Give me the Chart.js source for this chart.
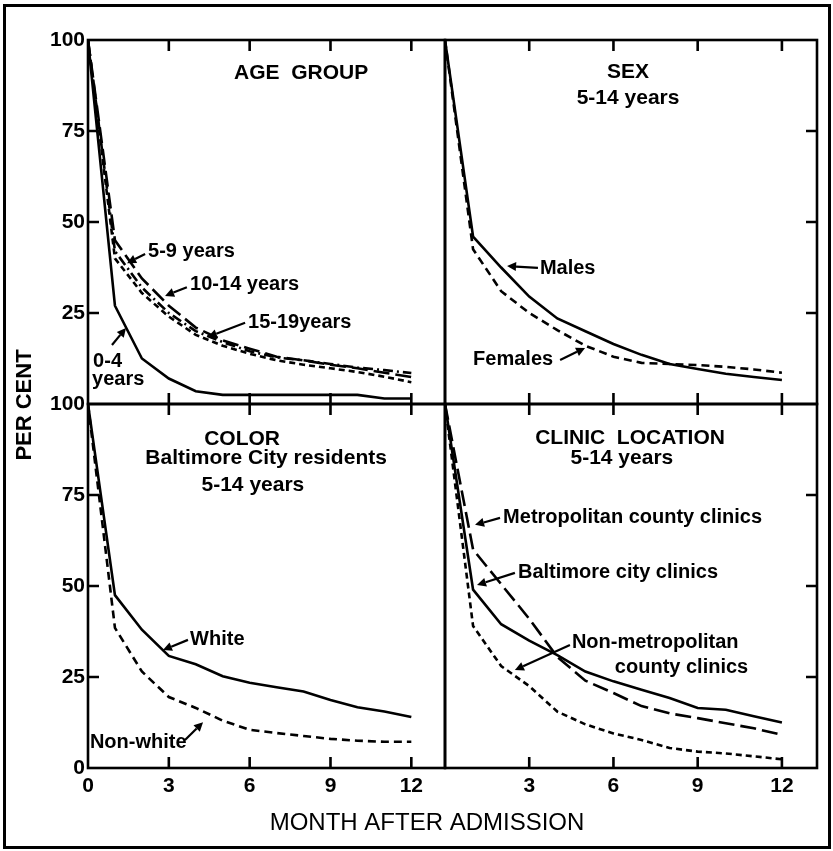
<!DOCTYPE html>
<html><head><meta charset="utf-8">
<script src="https://cdn.jsdelivr.net/npm/chart.js@4.4.1/dist/chart.umd.min.js"></script>
<style>
html,body{margin:0;padding:0;background:#fff;}
#wrap{position:relative;width:833px;height:851px;overflow:hidden;background:#fff;}
#wrap canvas{position:absolute;left:0;top:0;}
#frame{position:absolute;left:3px;top:4px;width:828px;height:845px;border:3px solid #000;box-sizing:border-box;}
</style></head><body>
<div id="wrap">
<div id="frame"></div>
<canvas id="cTL" width="833" height="851"></canvas>
<canvas id="cTR" width="833" height="851"></canvas>
<canvas id="cBL" width="833" height="851"></canvas>
<canvas id="cBR" width="833" height="851"></canvas>
</div>
<script>
// ---------- DATA ----------
const months = [0,1,2,3,4,5,6,7,8,9,10,11,12];
const xTickValues = [0,3,6,9,12];
const xTickLabels = ['0','3','6','9','12'];
const yTickValues = [0,25,50,75,100];
const yTickLabels = ['0','25','50','75','100'];
const edgeTickMonths = [3,6,9,12];
const edgeTickPercents = [25,50,75];

// Age group
const age0to4   = [100,27,12.5,7,3.5,2.5,2.5,2.5,2.5,2.5,2.5,1.5,1.5];
const age5to9   = [100,42,32,25,20,17,14.5,12.8,12,11,10,9.3,8.5];
const age10to14 = [100,45,34.5,27,21,17.5,15.2,13,12,10.8,9.8,8.6,7.4];
const age15to19 = [100,40,30.5,24,19,16,13.8,12,10.8,9.8,8.8,7.5,6.0];
// Sex, 5-14 years
const males   = [100,46,37.5,29.5,23.5,20,16.5,13.5,11,9.6,8.3,7.4,6.6];
const females = [100,42.5,31,25,20.3,16,13,11.3,11,10.7,10.2,9.5,8.6];
// Color, Baltimore City residents 5-14 years
const white    = [100,47.5,38,30.8,28.5,25.2,23.4,22.2,21,18.7,16.7,15.5,14];
const nonWhite = [100,38.5,26.5,19.5,16.5,13,10.5,9.6,8.8,8,7.5,7.2,7.2];
// Clinic location, 5-14 years
const baltimoreCity  = [100,49,39.5,35,31,26.5,23.8,21.5,19.2,16.5,16,14.2,12.5];
const metroCounty    = [100,60,50.5,41,30.5,24,20.6,17,15,13.7,12.3,10.9,9.1];
const nonMetroCounty = [100,39,28,22.5,15.5,12,9.5,7.7,5.5,4.5,4,3.2,2.4];

// ---------- STYLE ----------
const FONT = '"Liberation Sans", Arial, sans-serif';
const INK = '#000';
const DASH = {solid: [], longDash: [16,6], dash: [8,5], shortDash: [6,4], dashDot: [10,4,2,4]};
const W = 833, H = 851, XMAX = 13.25;

function pts(values){ return values.map((v,i)=>({x: months[i], y: v})); }
function ds(label, values, dash){
  return {label, data: pts(values), borderColor: INK, borderWidth: 2.6, borderDash: dash,
          pointRadius: 0, tension: 0, fill: false};
}

function drawArrow(ctx, x1, y1, x2, y2){
  ctx.save();
  ctx.strokeStyle = INK; ctx.fillStyle = INK; ctx.lineWidth = 2.2; ctx.setLineDash([]);
  const a = Math.atan2(y2-y1, x2-x1), L = 9, Wd = 4.5;
  const bx = x2 - L*Math.cos(a), by = y2 - L*Math.sin(a);
  ctx.beginPath(); ctx.moveTo(x1,y1); ctx.lineTo(bx,by); ctx.stroke();
  ctx.beginPath(); ctx.moveTo(x2,y2);
  ctx.lineTo(bx + Wd*Math.sin(a), by - Wd*Math.cos(a));
  ctx.lineTo(bx - Wd*Math.sin(a), by + Wd*Math.cos(a));
  ctx.closePath(); ctx.fill();
  ctx.restore();
}

function makePanel(id, box, cfg){
  const yw = cfg.yTicks ? 60 : 0, xh = cfg.xTicks ? 40 : 0;
  const decor = {
    id: 'decor',
    afterDraw(chart){
      const ctx = chart.ctx, a = chart.chartArea;
      const xs = chart.scales.x, ys = chart.scales.y;
      ctx.save();
      ctx.strokeStyle = INK; ctx.lineWidth = 2.6; ctx.setLineDash([]);
      ctx.strokeRect(a.left, a.top, a.right - a.left, a.bottom - a.top);
      const T = 11;
      ctx.beginPath();
      edgeTickMonths.forEach(m => {
        const x = xs.getPixelForValue(m);
        ctx.moveTo(x, a.top); ctx.lineTo(x, a.top + T);
        ctx.moveTo(x, a.bottom); ctx.lineTo(x, a.bottom - T);
      });
      edgeTickPercents.forEach(p => {
        const y = ys.getPixelForValue(p);
        if (cfg.side === 'left'){ ctx.moveTo(a.left, y); ctx.lineTo(a.left + T, y); }
        else { ctx.moveTo(a.right, y); ctx.lineTo(a.right - T, y); }
      });
      ctx.stroke();
      ctx.fillStyle = INK;
      ctx.textBaseline = 'middle';
      (cfg.titles||[]).forEach(t => {
        ctx.font = 'bold ' + t.size + 'px ' + FONT; ctx.textAlign = 'center';
        ctx.fillText(t.text, xs.getPixelForValue(t.m), ys.getPixelForValue(t.v));
      });
      (cfg.notes||[]).forEach(n => {
        ctx.font = 'bold 20px ' + FONT; ctx.textAlign = 'left';
        ctx.fillText(n.text, xs.getPixelForValue(n.m), ys.getPixelForValue(n.v));
      });
      (cfg.arrows||[]).forEach(r => {
        drawArrow(ctx, xs.getPixelForValue(r[0]), ys.getPixelForValue(r[1]),
                       xs.getPixelForValue(r[2]), ys.getPixelForValue(r[3]));
      });
      if (cfg.axisTitles){
        ctx.font = '24px ' + FONT;
        ctx.textAlign = 'center';
        ctx.fillText('MONTH AFTER ADMISSION', 427, 823);
        ctx.font = 'bold 22px ' + FONT;
        ctx.save(); ctx.translate(25, 405); ctx.rotate(-Math.PI/2);
        ctx.fillText('PER CENT', 0, 0); ctx.restore();
      }
      ctx.restore();
    }
  };
  return new Chart(document.getElementById(id), {
    type: 'line',
    data: {datasets: cfg.datasets},
    options: {
      responsive: false, animation: false, devicePixelRatio: 1,
      layout: {padding: {left: box.left - yw, top: box.top, right: W - box.right, bottom: H - box.bottom - xh}},
      plugins: {legend: {display: false}, tooltip: {enabled: false}},
      scales: {
        x: {
          type: 'linear', min: 0, max: XMAX, position: 'bottom',
          display: !!cfg.xTicks,
          afterFit(s){ s.height = xh; },
          afterBuildTicks(s){ s.ticks = (cfg.xTicks||[]).map(v => ({value: v})); },
          grid: {display: false, drawTicks: false}, border: {display: false},
          ticks: {padding: 6, color: INK, font: {family: FONT, size: 21, weight: 'bold'}, maxRotation: 0, autoSkip: false,
                  callback: v => xTickLabels[xTickValues.indexOf(v)]}
        },
        y: {
          type: 'linear', min: 0, max: 100, position: 'left',
          display: !!cfg.yTicks,
          afterFit(s){ s.width = yw; },
          afterBuildTicks(s){ s.ticks = (cfg.yTicks||[]).map(v => ({value: v})); },
          grid: {display: false, drawTicks: false}, border: {display: false},
          ticks: {padding: 3, color: INK, font: {family: FONT, size: 21, weight: 'bold'}, autoSkip: false,
                  callback: v => yTickLabels[yTickValues.indexOf(v)]}
        }
      }
    },
    plugins: [decor]
  });
}

makePanel('cTL', {left: 88, top: 40, right: 445, bottom: 404}, {
  side: 'left', yTicks: [25,50,75,100], axisTitles: true,
  datasets: [ds('0-4 years', age0to4, DASH.solid), ds('5-9 years', age5to9, DASH.dashDot),
             ds('10-14 years', age10to14, DASH.longDash), ds('15-19 years', age15to19, DASH.shortDash)],
  titles: [{text: 'AGE  GROUP', m: 7.91, v: 90.9, size: 21}],
  notes: [{text: '5-9 years', m: 2.23, v: 41.8}, {text: '10-14 years', m: 3.79, v: 32.7},
          {text: '15-19years', m: 5.94, v: 22.5}, {text: '0-4', m: 0.19, v: 11.8}, {text: 'years', m: 0.15, v: 6.6}],
  arrows: [[2.12,41.2,1.45,38.7],[3.67,32.1,2.86,29.7],[5.83,22.3,4.45,18.4],[0.89,16.2,1.41,20.9]]
});
makePanel('cTR', {left: 445, top: 40, right: 817, bottom: 404}, {
  side: 'right',
  datasets: [ds('Males', males, DASH.solid), ds('Females', females, DASH.dash)],
  titles: [{text: 'SEX', m: 6.52, v: 91.2, size: 21}, {text: '5-14 years', m: 6.52, v: 84.1, size: 21}],
  notes: [{text: 'Males', m: 3.38, v: 37.1}, {text: 'Females', m: 1.0, v: 12.1}],
  arrows: [[3.31,37.4,2.21,37.9],[4.10,12.1,4.99,15.4]]
});
makePanel('cBL', {left: 88, top: 404, right: 445, bottom: 768}, {
  side: 'left', yTicks: [0,25,50,75,100], xTicks: [0,3,6,9,12],
  datasets: [ds('White', white, DASH.solid), ds('Non-white', nonWhite, DASH.dash)],
  titles: [{text: 'COLOR', m: 5.72, v: 90.4, size: 21}, {text: 'Baltimore City residents', m: 6.61, v: 85.2, size: 21},
           {text: '5-14 years', m: 6.12, v: 77.7, size: 21}],
  notes: [{text: 'White', m: 3.79, v: 35.2}, {text: 'Non-white', m: 0.07, v: 7.1}],
  arrows: [[3.71,35.2,2.78,32.4],[3.6,7.7,4.27,12.6]]
});
makePanel('cBR', {left: 445, top: 404, right: 817, bottom: 768}, {
  side: 'right', xTicks: [3,6,9,12],
  datasets: [ds('Baltimore city clinics', baltimoreCity, DASH.solid),
             ds('Metropolitan county clinics', metroCounty, DASH.longDash),
             ds('Non-metropolitan county clinics', nonMetroCounty, DASH.shortDash)],
  titles: [{text: 'CLINIC  LOCATION', m: 6.59, v: 90.7, size: 21}, {text: '5-14 years', m: 6.30, v: 85.2, size: 21}],
  notes: [{text: 'Metropolitan county clinics', m: 2.07, v: 68.7}, {text: 'Baltimore city clinics', m: 2.60, v: 53.6},
          {text: 'Non-metropolitan', m: 4.52, v: 34.6}, {text: 'county clinics', m: 6.05, v: 27.7}],
  arrows: [[1.96,68.7,1.07,66.8],[2.49,53.6,1.14,50.3],[4.45,33.8,2.49,26.9]]
});
</script>
</body></html>
